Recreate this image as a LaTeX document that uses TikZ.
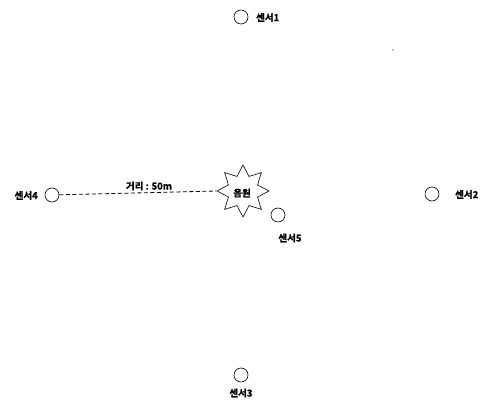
\documentclass[tikz,border=0pt]{standalone}
\usepackage{fontspec}
\newfontfamily\kr[FakeBold=1.2]{Noto Sans CJK KR Bold}
\usetikzlibrary{shapes.geometric}
\begin{document}
\begin{tikzpicture}[x=1pt,y=-1pt,
  sensor/.style={draw,circle,minimum size=14pt,inner sep=0pt,line width=0.6pt},
  lbl/.style={font=\kr\fontsize{9.5}{10}\selectfont,inner sep=0pt}]
\useasboundingbox (0,0) rectangle (487,403);
\node[sensor] (s1) at (241,17) {};
\node[lbl,anchor=west] (l1) at (256,17.5) {센서1};
\node[sensor] (s2) at (432,194) {};
\node[lbl,anchor=west] (l2) at (455,194.5) {센서2};
\node[sensor] (s3) at (241,375) {};
\node[lbl] (l3) at (241,393) {센서3};
\node[sensor] (s4) at (52,195) {};
\node[lbl,anchor=east] (l4) at (38,195.5) {센서4};
\node[sensor] (s5) at (278,215) {};
\node[lbl] (l5) at (290,238) {센서5};
\node[draw,star,star points=8,star point ratio=1.65,minimum size=52pt,inner sep=0pt,line width=0.6pt] (src) at (243,191) {};
\node[lbl] (lsrc) at (242,193) {음원};
\draw[line width=0.8pt,dash pattern=on 4pt off 2.5pt] (s4) -- (src.west);
\node[lbl] (dist) at (149,186) {거리 : 50m};
\fill (393,50) circle (0.6pt);
\end{tikzpicture}
\end{document}
